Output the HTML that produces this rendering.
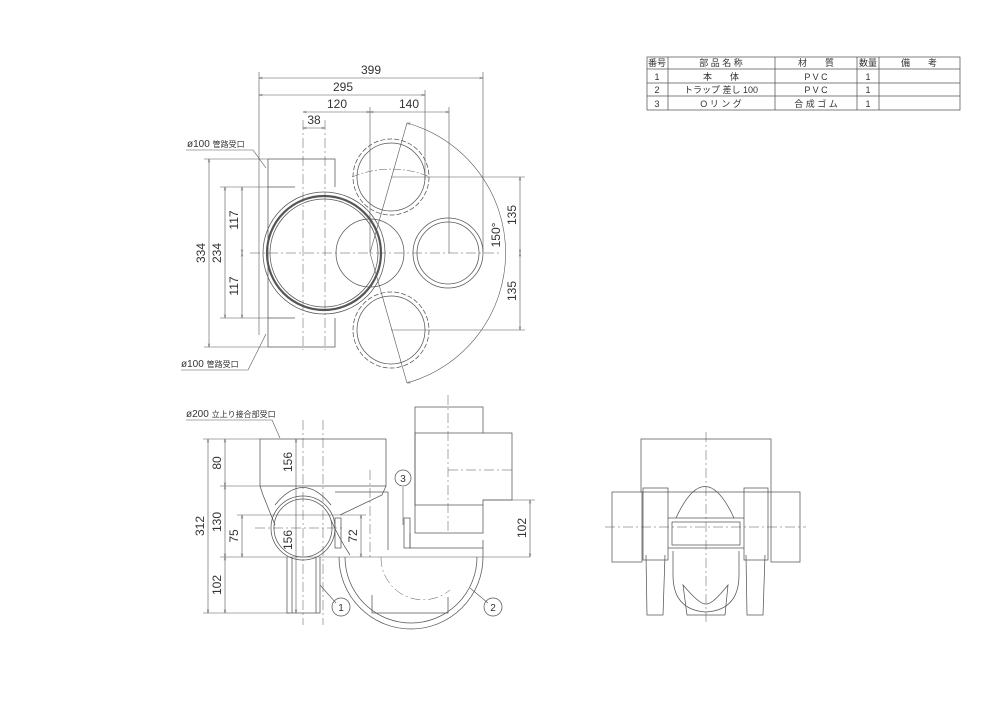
<!DOCTYPE html>
<html><head><meta charset="utf-8"><style>
body{margin:0;background:#fff}
svg{display:block}
text{font-family:"Liberation Sans","Noto Sans CJK JP",sans-serif;fill:#333}
</style></head><body>
<svg width="1000" height="706" viewBox="0 0 1000 706" xmlns="http://www.w3.org/2000/svg">
<defs><marker id="a" viewBox="0 0 10 10" refX="10" refY="5" markerWidth="6" markerHeight="6" orient="auto-start-reverse"><path d="M0,2 L10,5 L0,8" fill="none" stroke="#555"/></marker></defs>
<g stroke="#555" stroke-width="0.75" fill="none">
<rect x="647" y="57" width="313" height="53"/>
<line x1="647" y1="69" x2="960" y2="69"/><line x1="647" y1="83" x2="960" y2="83"/><line x1="647" y1="96" x2="960" y2="96"/>
<line x1="668" y1="57" x2="668" y2="110"/><line x1="775" y1="57" x2="775" y2="110"/><line x1="857" y1="57" x2="857" y2="110"/><line x1="879" y1="57" x2="879" y2="110"/>

<g stroke-width="0.6">
<line x1="259" y1="78" x2="483" y2="78" marker-start="url(#a)" marker-end="url(#a)"/>
<line x1="259" y1="95" x2="425" y2="95" marker-start="url(#a)" marker-end="url(#a)"/>
<line x1="303" y1="112" x2="370" y2="112" marker-start="url(#a)" marker-end="url(#a)"/>
<line x1="370" y1="112" x2="449" y2="112" marker-start="url(#a)" marker-end="url(#a)"/>
<line x1="303" y1="128" x2="325" y2="128" marker-start="url(#a)" marker-end="url(#a)"/>
<line x1="259" y1="72" x2="259" y2="335"/><line x1="483" y1="72" x2="483" y2="253"/>
<line x1="425" y1="90" x2="425" y2="180"/><line x1="449" y1="107" x2="449" y2="253"/>
<line x1="370" y1="107" x2="370" y2="253"/>
<line x1="209" y1="159" x2="209" y2="347" marker-start="url(#a)" marker-end="url(#a)"/>
<line x1="225" y1="187" x2="225" y2="318" marker-start="url(#a)" marker-end="url(#a)"/>
<line x1="242" y1="187" x2="242" y2="253" marker-start="url(#a)" marker-end="url(#a)"/>
<line x1="242" y1="253" x2="242" y2="318" marker-start="url(#a)" marker-end="url(#a)"/>
<line x1="204" y1="159" x2="268" y2="159"/><line x1="204" y1="347" x2="268" y2="347"/>
<line x1="220" y1="187" x2="268" y2="187"/><line x1="220" y1="318" x2="268" y2="318"/>
<line x1="520" y1="177" x2="520" y2="253" marker-start="url(#a)" marker-end="url(#a)"/>
<line x1="520" y1="253" x2="520" y2="330" marker-start="url(#a)" marker-end="url(#a)"/>
<line x1="391" y1="177" x2="525" y2="177"/><line x1="391" y1="330" x2="525" y2="330"/>
<path d="M407,123 A135,135 0 0 1 407,383" marker-start="url(#a)" marker-end="url(#a)"/>
<line x1="407" y1="123" x2="370" y2="253"/><line x1="407" y1="383" x2="370" y2="253"/>
<path d="M186,150 L253,150 L266,168"/><path d="M181,370 L248,370 L266,334"/>
</g>
<path d="M268,159 H335 V187 M268,159 V187 H295 M268,347 H335 V318 M268,347 V318 H295"/>
<line x1="268" y1="187" x2="268" y2="318"/>
<circle cx="370" cy="253" r="34"/>
<circle cx="324" cy="253" r="61"/>
<circle cx="324" cy="253" r="57" stroke-width="2.2"/>
<circle cx="324" cy="253" r="54"/>
<circle cx="448" cy="253" r="35"/><circle cx="448" cy="253" r="31"/>
<circle cx="391" cy="177" r="38" stroke-dasharray="5,2"/><circle cx="391" cy="177" r="34"/>
<circle cx="391" cy="330" r="38" stroke-dasharray="5,2"/><circle cx="391" cy="330" r="34"/>
<path d="M352,177 A100,100 0 0 1 430,177" stroke-dasharray="8,2,2,2" stroke-width="0.5"/>
<g stroke-dasharray="10,3,2,3" stroke-width="0.5">
<line x1="250" y1="253" x2="500" y2="253"/>
<line x1="303" y1="120" x2="303" y2="350"/><line x1="325" y1="120" x2="325" y2="350"/>
</g>

<g stroke-width="0.6">
<line x1="208" y1="439" x2="208" y2="613" marker-start="url(#a)" marker-end="url(#a)"/>
<line x1="225" y1="439" x2="225" y2="486" marker-start="url(#a)" marker-end="url(#a)"/>
<line x1="225" y1="486" x2="225" y2="557" marker-start="url(#a)" marker-end="url(#a)"/>
<line x1="225" y1="557" x2="225" y2="613" marker-start="url(#a)" marker-end="url(#a)"/>
<line x1="242" y1="515" x2="242" y2="557" marker-start="url(#a)" marker-end="url(#a)"/>
<line x1="296" y1="439" x2="296" y2="613" marker-start="url(#a)" marker-end="url(#a)"/>
<line x1="361" y1="515" x2="361" y2="557" marker-start="url(#a)" marker-end="url(#a)"/>
<line x1="530" y1="500" x2="530" y2="557" marker-start="url(#a)" marker-end="url(#a)"/>
<line x1="203" y1="439" x2="260" y2="439"/><line x1="220" y1="486" x2="260" y2="486"/>
<line x1="220" y1="557" x2="530" y2="557"/><line x1="203" y1="613" x2="290" y2="613"/>
<line x1="237" y1="515" x2="366" y2="515"/><line x1="483" y1="500" x2="535" y2="500"/>
<path d="M186,420 L272,420 L280,438"/>
<line x1="320" y1="585" x2="336" y2="603"/><line x1="470" y1="588" x2="488" y2="603"/>
<line x1="403" y1="487" x2="403" y2="525"/>
</g>
<rect x="260" y="439" width="126" height="47"/>
<path d="M260,486 L263,495 L275,525 M386,486 L382,495 L340,515"/>
<circle cx="303" cy="528" r="32"/><circle cx="303" cy="528" r="29"/>
<path d="M275,505 Q303,470 331,505"/>
<path d="M287,557 V613 H320 V557 M292,557 V613 M316,557 V613"/>
<path d="M335,492 H388 V550 M331,520 Q340,540 350,555"/>
<path d="M339,557 A72,72 0 0 0 483,557 V540 M345,557 A66,66 0 0 0 477,557"/>
<path d="M372,595 V613 H448 V597"/>
<path d="M381,557 A42,42 0 0 0 450,590" stroke-dasharray="10,3,2,3" stroke-width="0.5"/>
<path d="M335,518 h6 v30 h-6z M404,518 h6 v30 h-6z"/>
<path d="M415,407 H483 V433 H512 V500 H483 V533 H415 Z"/>
<path d="M415,433 H483 M415,505 H483 M415,433 V505 M410,533 V548 H483"/>
<g stroke-dasharray="10,3,2,3" stroke-width="0.5">
<line x1="303" y1="420" x2="303" y2="625"/><line x1="323" y1="420" x2="323" y2="625"/>
<line x1="255" y1="528" x2="345" y2="528"/>
<line x1="448" y1="395" x2="448" y2="533"/><line x1="448" y1="470" x2="515" y2="470"/>
<line x1="370" y1="470" x2="370" y2="557"/>
</g>
<circle cx="341" cy="607" r="9"/><circle cx="493" cy="607" r="9"/><circle cx="403" cy="478" r="8"/>

<rect x="641" y="439" width="130" height="53"/>
<rect x="612" y="492" width="30" height="70"/><rect x="771" y="492" width="29" height="70"/>
<path d="M643,488 V560 H668 V488 Z M744,488 V560 H768 V488 Z"/>
<path d="M668,518 H744 M668,548 H744 M672,522 H740 V545 H672 Z"/>
<path d="M676,518 Q705,455 734,518"/>
<path d="M673,551 V575 Q673,610 706,612 Q739,610 739,575 V551"/>
<path d="M683,585 Q700,605 706,604 Q712,605 728,585 L725,615 H687 Z"/>
<path d="M646,555 L647,615 H663 L665,555 M746,555 L747,615 H763 L765,555"/>
<g stroke-dasharray="10,3,2,3" stroke-width="0.5">
<line x1="706" y1="432" x2="706" y2="622"/><line x1="605" y1="527" x2="806" y2="527"/>
</g>
</g>

<g font-size="12">
<text x="371" y="74" text-anchor="middle">399</text>
<text x="343" y="91" text-anchor="middle">295</text>
<text x="337" y="108" text-anchor="middle">120</text>
<text x="409" y="108" text-anchor="middle">140</text>
<text x="314" y="124" text-anchor="middle">38</text>
<text transform="translate(205,253) rotate(-90)" text-anchor="middle">334</text>
<text transform="translate(221,253) rotate(-90)" text-anchor="middle">234</text>
<text transform="translate(238,220) rotate(-90)" text-anchor="middle">117</text>
<text transform="translate(238,286) rotate(-90)" text-anchor="middle">117</text>
<text transform="translate(516,215) rotate(-90)" text-anchor="middle">135</text>
<text transform="translate(516,291) rotate(-90)" text-anchor="middle">135</text>
<text transform="translate(500,235) rotate(-90)" text-anchor="middle">150°</text>
<text transform="translate(204,526) rotate(-90)" text-anchor="middle">312</text>
<text transform="translate(221,463) rotate(-90)" text-anchor="middle">80</text>
<text transform="translate(221,522) rotate(-90)" text-anchor="middle">130</text>
<text transform="translate(221,585) rotate(-90)" text-anchor="middle">102</text>
<text transform="translate(238,536) rotate(-90)" text-anchor="middle">75</text>
<text transform="translate(292,462) rotate(-90)" text-anchor="middle">156</text>
<text transform="translate(292,540) rotate(-90)" text-anchor="middle">156</text>
<text transform="translate(357,536) rotate(-90)" text-anchor="middle">72</text>
<text transform="translate(526,528) rotate(-90)" text-anchor="middle">102</text>
<text x="341" y="611" text-anchor="middle" font-size="10">1</text>
<text x="493" y="611" text-anchor="middle" font-size="10">2</text>
<text x="403" y="482" text-anchor="middle" font-size="10">3</text>
</g>
<g font-size="10">
<text x="187" y="147">ø100 <tspan font-size="8">管路受口</tspan></text>
<text x="181" y="367">ø100 <tspan font-size="8">管路受口</tspan></text>
<text x="186" y="417">ø200 <tspan font-size="8">立上り接合部受口</tspan></text>
</g>
<g font-size="9" text-anchor="middle">
<text x="657" y="66">番号</text><text x="721" y="66">部 品 名 称</text><text x="816" y="66">材　　質</text><text x="868" y="66">数量</text><text x="919" y="66">備　　考</text>
<text x="657" y="80">1</text><text x="721" y="80">本　　体</text><text x="816" y="80">P V C</text><text x="868" y="80">1</text>
<text x="657" y="93">2</text><text x="721" y="93">トラップ 差し 100</text><text x="816" y="93">P V C</text><text x="868" y="93">1</text>
<text x="657" y="107">3</text><text x="721" y="107">O リ ン グ</text><text x="816" y="107">合 成 ゴ ム</text><text x="868" y="107">1</text>
</g>
</svg>
</body></html>
